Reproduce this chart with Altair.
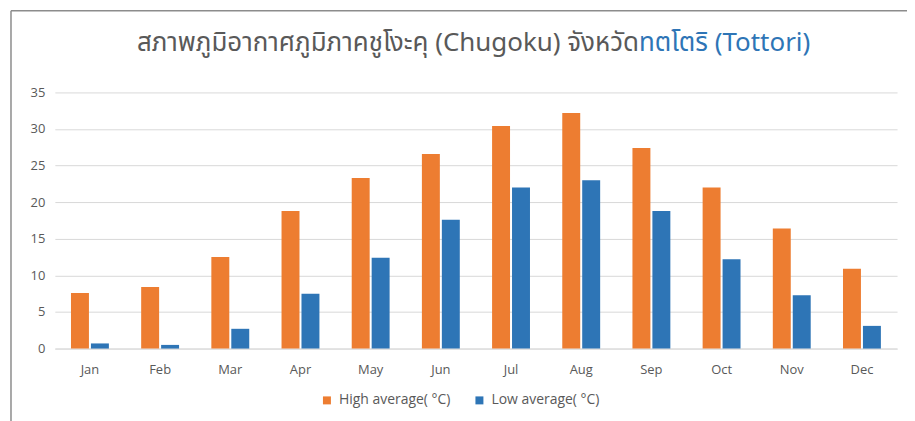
import altair as alt
import pandas as pd

months = ["Jan", "Feb", "Mar", "Apr", "May", "Jun", "Jul", "Aug", "Sep", "Oct", "Nov", "Dec"]
high_avg = [7.6, 8.4, 12.5, 18.8, 23.3, 26.6, 30.4, 32.2, 27.4, 22.0, 16.4, 10.9]
low_avg = [0.7, 0.5, 2.7, 7.5, 12.4, 17.6, 22.0, 23.0, 18.8, 12.2, 7.3, 3.1]
series = ["High average( °C)", "Low average( °C)"]
title_gray = "สภาพภูมิอากาศภูมิภาคชูโงะคุ (Chugoku) จังหวัด"
title_blue = "ทตโตริ (Tottori)"

rows = []
for m, h, l in zip(months, high_avg, low_avg):
    rows.append({"month": m, "series": series[0], "value": h})
    rows.append({"month": m, "series": series[1], "value": l})
df = pd.DataFrame(rows)

W, H = 845, 257
font = "Open Sans"
thai_font = "Noto Sans Thai, Noto Sans Thai Looped, Loma, Garuda, Norasi, Noto Sans, sans-serif"

bars = alt.Chart(df).mark_bar().encode(
    x=alt.X("month:N", sort=months, title=None,
            scale=alt.Scale(paddingInner=0.46, paddingOuter=0.23),
            axis=alt.Axis(labelAngle=0, ticks=False, domainColor="#d9d9d9",
                          labelPadding=15, labelColor="#595959", labelFontSize=13,
                          labelFont=font, grid=False)),
    xOffset=alt.XOffset("series:N", sort=series, scale=alt.Scale(paddingInner=0.1)),
    y=alt.Y("value:Q", title=None,
            scale=alt.Scale(domain=[0, 35], nice=False),
            axis=alt.Axis(values=[0, 5, 10, 15, 20, 25, 30, 35], ticks=False, domain=False,
                          gridColor="#d9d9d9", labelColor="#595959", labelFontSize=13,
                          labelFont=font, labelPadding=10)),
    color=alt.Color("series:N", sort=series,
                    scale=alt.Scale(domain=series, range=["#ED7D31", "#2E75B6"]),
                    legend=alt.Legend(title=None, orient="none", direction="horizontal",
                                      legendX=266, legendY=302, symbolType="square",
                                      symbolSize=64, symbolStrokeWidth=0,
                                      labelFontSize=14, labelColor="#595959", labelFont=font,
                                      columnPadding=22, labelOffset=5)),
)

one = pd.DataFrame({"a": [0]})
title1 = alt.Chart(one).mark_text(align="right", baseline="alphabetic", fontSize=26,
                                  font=thai_font, color="#595959").encode(
    x=alt.value(586), y=alt.value(-42), text=alt.value(title_gray))
title2 = alt.Chart(one).mark_text(align="left", baseline="alphabetic", fontSize=26,
                                  font=thai_font, color="#2E75B6").encode(
    x=alt.value(586), y=alt.value(-42), text=alt.value(title_blue))

border_left = alt.Chart(one).mark_rule(color="#8c8c8c", strokeWidth=1.5).encode(
    x=alt.value(-44), y=alt.value(-82), y2=alt.value(360))
border_top = alt.Chart(one).mark_rule(color="#8c8c8c", strokeWidth=1.5).encode(
    x=alt.value(-44), x2=alt.value(870), y=alt.value(-82))

chart = alt.layer(border_left, border_top, bars, title1, title2).properties(
    width=W, height=H,
    autosize=alt.AutoSizeParams(type="none"),
    padding={"left": 47, "top": 84, "right": 10, "bottom": 80},
    background="white",
).configure_view(stroke=None)

chart.save("out.html", embed_options={"renderer": "svg", "actions": False})
